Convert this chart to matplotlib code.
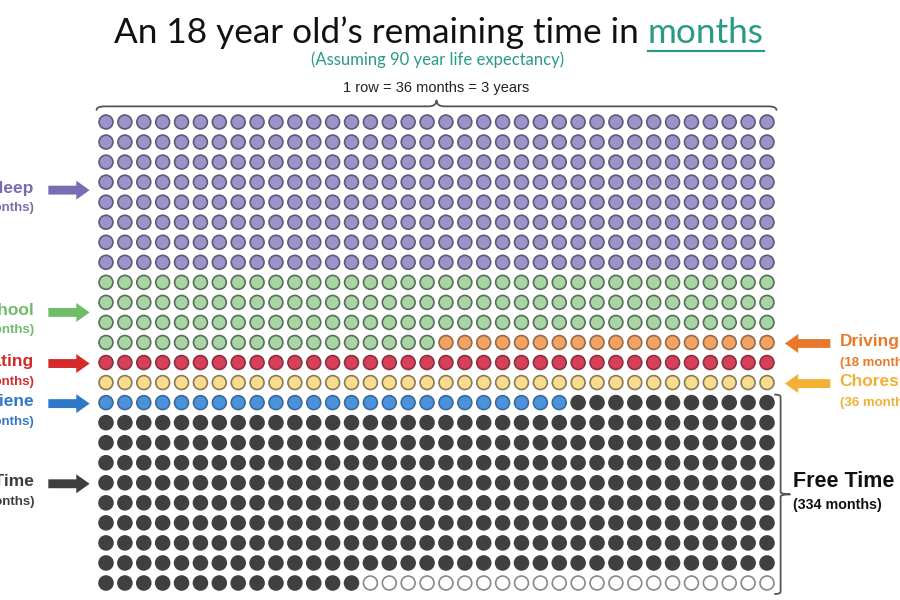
import numpy as np
from matplotlib import pyplot as plt
from matplotlib.path import Path
from matplotlib.patches import PathPatch
from matplotlib.lines import Line2D

# months per category, in the order they fill the grid (row by row, 36 per row)
categories = ["Sleep", "School", "Driving", "Eating", "Chores", "Hygiene", "Free Time", "Empty"]
months = [288, 126, 18, 36, 36, 25, 313, 22]
label_months = [288, 126, 18, 36, 36, 25, 334, None]
fill_colors = ["#9c94c9", "#a9d4a4", "#f2a262", "#d8405a", "#f9dc8f", "#4a93dc", "#404040", "#ffffff"]
edge_colors = ["#5d5a7a", "#56705a", "#9a6a45", "#8a3040", "#8a7a50", "#3a6a9a", "#404040", "#888888"]
text_colors = ["#7a6bb5", "#6dbd6a", "#e8782a", "#d42a2a", "#f2b135", "#2f78c8", "#3d3d3d", None]

N_COLS = 36
N_ROWS = 24


def brace(ax, x0, x1, y, h, horizontal=True, color="#555555"):
    """Curly brace from x0 to x1 at position y, tip displaced by h"""
    xm = (x0 + x1) / 2
    e = h * 0.6
    r = (x1 - x0) * 0.012
    pts = [(x0, y - e), (x0, y), (x0 + r, y),
           (xm - r, y), (xm, y), (xm, y + h),
           (xm, y), (xm + r, y),
           (x1 - r, y), (x1, y), (x1, y - e)]
    codes = [Path.MOVETO, Path.CURVE3, Path.CURVE3,
             Path.LINETO, Path.CURVE3, Path.CURVE3,
             Path.CURVE3, Path.CURVE3,
             Path.LINETO, Path.CURVE3, Path.CURVE3]
    if not horizontal:
        pts = [(b, a) for a, b in pts]
    ax.add_patch(PathPatch(Path(pts, codes), fill=False, edgecolor=color, lw=1.3,
                           capstyle="round", joinstyle="round"))


def main():
    fig = plt.figure(figsize=(9, 6), dpi=100)
    ax = fig.add_axes([0, 0, 1, 1])
    dx = (767 - 106) / 35
    dy = (583 - 122) / 23
    ax.set_xlim(-106 / dx, (900 - 106) / dx)
    ax.set_ylim((600 - 122) / dy, -122 / dy)
    ax.axis("off")

    # grid of months
    idx = np.arange(N_COLS * N_ROWS)
    cols = idx % N_COLS
    rows = idx // N_COLS
    fc, ec = [], []
    for m, f, e in zip(months, fill_colors, edge_colors):
        fc += [f] * m
        ec += [e] * m
    ax.scatter(cols, rows, s=100, c=fc, edgecolors=ec, linewidths=1.2, zorder=3)

    # side labels with arrows
    starts = np.cumsum([0] + months[:-1])
    left = {"Sleep": 3.4, "School": 9.5, "Eating": 12.05, "Hygiene": 14.05, "Free Time": 18.05}
    right = {"Driving": 11.05, "Chores": 13.05}
    arrow_style = "simple,head_length=0.6,head_width=0.85,tail_width=0.4"
    for i, cat in enumerate(categories):
        if cat in left:
            y = left[cat]
            col = text_colors[i]
            ax.annotate("", xy=(-0.72, y), xytext=(-3.2, y),
                        arrowprops=dict(arrowstyle=arrow_style, mutation_scale=16,
                                        color=col, lw=0))
            ax.text(-3.8, y - 0.1, cat, ha="right", va="center", color=col,
                    fontsize=12.5, fontweight="bold", family="Liberation Sans")
            ax.text(-3.8, y + 0.9, f"({label_months[i]} months)", ha="right", va="center",
                    color=col, fontsize=9.5, fontweight="bold", family="Liberation Sans")
        elif cat in right:
            y = right[cat]
            col = text_colors[i]
            ax.annotate("", xy=(35.8, y), xytext=(38.5, y),
                        arrowprops=dict(arrowstyle=arrow_style, mutation_scale=16,
                                        color=col, lw=0))
            ax.text(38.85, y - 0.1, cat, ha="left", va="center", color=col,
                    fontsize=12.5, fontweight="bold", family="Liberation Sans")
            ax.text(38.85, y + 0.95, f"({label_months[i]} months)", ha="left", va="center",
                    color=col, fontsize=9.5, fontweight="bold", family="Liberation Sans")

    # braces
    brace(ax, -0.5, 35.5, -0.78, -0.3, horizontal=True)
    ax.text(17.5, -1.7, "1 row = 36 months = 3 years", ha="center", va="center",
            fontsize=10.5, family="Liberation Sans", color="#222222")
    free_start = starts[categories.index("Free Time")] // N_COLS
    brace(ax, free_start - 0.4, N_ROWS - 0.45, 35.72, 0.5, horizontal=False)
    ax.text(36.4, 17.95, "Free Time", ha="left", va="center", fontsize=15.5,
            fontweight="bold", family="Liberation Sans", color="#111111")
    ax.text(36.4, 19.1, f"({label_months[6]} months)", ha="left", va="center",
            fontsize=10.3, fontweight="bold", family="Liberation Sans", color="#111111")

    # title
    fig.text(0.7195, 0.945, "An 18 year old\u2019s remaining time in ", ha="right",
             va="center", fontsize=25.3, family="Lato", color="#111111")
    t2 = fig.text(0.72, 0.945, "months", ha="left", va="center", fontsize=25.3,
                  family="Lato", color="#2a9a86")
    fig.text(0.486, 0.9, "(Assuming 90 year life expectancy)", ha="center", va="center",
             fontsize=12, family="Lato", color="#2a9a86")
    fig.canvas.draw()
    fb = t2.get_window_extent().transformed(fig.transFigure.inverted())
    fig.add_artist(Line2D([fb.x0, fb.x1], [fb.y0 - 0.004, fb.y0 - 0.004],
                          transform=fig.transFigure, color="#2a9a86", lw=1.6))

    fig.savefig("out.png", dpi=100)


if __name__ == '__main__':
    main()
